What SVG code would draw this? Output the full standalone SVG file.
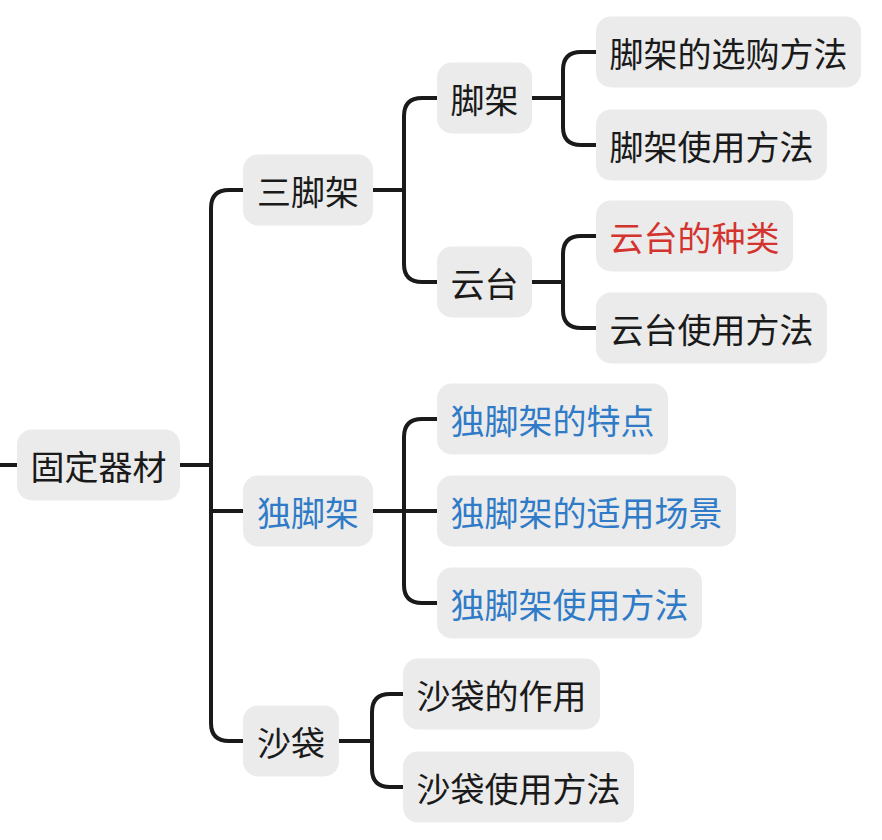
<svg xmlns="http://www.w3.org/2000/svg" width="882" height="840" viewBox="0 0 882 840">
<style>
.box{fill:#ebebeb}
.t{font-family:"Noto Sans CJK SC","Noto Sans CJK JP",sans-serif;font-size:34px;fill:#1a1a1a;text-anchor:middle;dominant-baseline:central}
.blue{fill:#2f7bc8}
.red{fill:#d3342f}
.c{fill:none;stroke:#1a1a1a;stroke-width:4;stroke-linecap:butt;stroke-linejoin:round}
</style>
<rect width="882" height="840" fill="#ffffff"/>
<g id="connectors">
<path class="c" d="M0,465 H17"/>
<path class="c" d="M180,465 H211"/>
<path class="c" d="M243,190 H229 Q211,190 211,208 V723 Q211,741 229,741 H243"/>
<path class="c" d="M211,511 H243"/>
<path class="c" d="M373,190 H404"/>
<path class="c" d="M437,98 H422 Q404,98 404,116 V264 Q404,282 422,282 H437"/>
<path class="c" d="M532,98 H563"/>
<path class="c" d="M596,52 H581 Q563,52 563,70 V127 Q563,145 581,145 H596"/>
<path class="c" d="M532,282 H563"/>
<path class="c" d="M596,236 H581 Q563,236 563,254 V310 Q563,328 581,328 H596"/>
<path class="c" d="M373,511 H437"/>
<path class="c" d="M437,419 H422 Q404,419 404,437 V585 Q404,603 422,603 H437"/>
<path class="c" d="M339,741 H372"/>
<path class="c" d="M403,694 H390 Q372,694 372,712 V769 Q372,787 390,787 H403"/>
</g>
<g id="root"><rect class="box" x="17" y="429.5" width="163" height="71" rx="15"/><text class="t" x="98.5" y="465">固定器材</text></g>
<g id="tripod"><rect class="box" x="243" y="154.5" width="130" height="71" rx="15"/><text class="t" x="308" y="190">三脚架</text></g>
<g id="legs"><rect class="box" x="437" y="62.5" width="95" height="71" rx="15"/><text class="t" x="484.5" y="98">脚架</text></g>
<g id="legs-buy"><rect class="box" x="596" y="16.5" width="265" height="71" rx="15"/><text class="t" x="728.5" y="52">脚架的选购方法</text></g>
<g id="legs-use"><rect class="box" x="596" y="109.5" width="231" height="71" rx="15"/><text class="t" x="711.5" y="145">脚架使用方法</text></g>
<g id="head"><rect class="box" x="437" y="246.5" width="95" height="71" rx="15"/><text class="t" x="484.5" y="282">云台</text></g>
<g id="head-types"><rect class="box" x="596" y="200.5" width="197" height="71" rx="15"/><text class="t red" x="694.5" y="236">云台的种类</text></g>
<g id="head-use"><rect class="box" x="596" y="292.5" width="231" height="71" rx="15"/><text class="t" x="711.5" y="328">云台使用方法</text></g>
<g id="monopod"><rect class="box" x="243" y="475.5" width="130" height="71" rx="15"/><text class="t blue" x="308" y="511">独脚架</text></g>
<g id="mono-feat"><rect class="box" x="437" y="383.5" width="231" height="71" rx="15"/><text class="t blue" x="552.5" y="419">独脚架的特点</text></g>
<g id="mono-scene"><rect class="box" x="437" y="475.5" width="299" height="71" rx="15"/><text class="t blue" x="586.5" y="511">独脚架的适用场景</text></g>
<g id="mono-use"><rect class="box" x="437" y="567.5" width="265" height="71" rx="15"/><text class="t blue" x="569.5" y="603">独脚架使用方法</text></g>
<g id="sandbag"><rect class="box" x="243" y="705.5" width="96" height="71" rx="15"/><text class="t" x="291" y="741">沙袋</text></g>
<g id="sand-role"><rect class="box" x="403" y="658.5" width="197" height="71" rx="15"/><text class="t" x="501.5" y="694">沙袋的作用</text></g>
<g id="sand-use"><rect class="box" x="403" y="751.5" width="231" height="71" rx="15"/><text class="t" x="518.5" y="787">沙袋使用方法</text></g>
</svg>
